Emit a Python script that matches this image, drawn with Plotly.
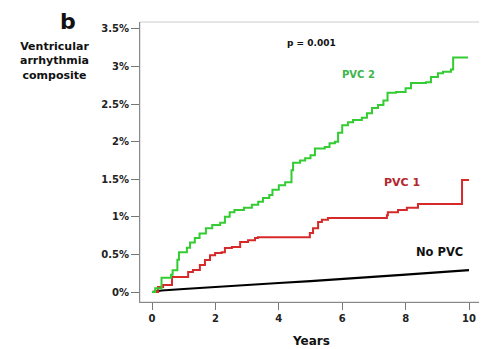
import plotly.graph_objects as go

# PVC 2 (green) cumulative incidence, %
pvc2_t = [0, 0.1, 0.3, 0.6, 0.65, 0.8, 0.85, 1.1, 1.2, 1.35, 1.5, 1.7, 1.9, 2.15, 2.3, 2.45, 2.6,
          2.9, 3.15, 3.35, 3.5, 3.7, 3.8, 4.0, 4.2, 4.4, 4.45, 4.67, 4.83, 5.0, 5.14, 5.45, 5.6,
          5.77, 5.87, 6.0, 6.18, 6.34, 6.62, 6.78, 6.94, 7.13, 7.3, 7.43, 7.7, 8.0, 8.17, 8.64,
          8.8, 9.02, 9.18, 9.43, 9.5, 9.97]
pvc2_y = [0, 0.05, 0.19, 0.23, 0.29, 0.43, 0.53, 0.59, 0.66, 0.72, 0.78, 0.85, 0.89, 0.92, 1.0, 1.06, 1.09,
          1.12, 1.16, 1.2, 1.25, 1.29, 1.36, 1.42, 1.46, 1.62, 1.72, 1.75, 1.78, 1.82, 1.91, 1.93, 1.98,
          2.0, 2.12, 2.22, 2.26, 2.29, 2.32, 2.38, 2.45, 2.49, 2.55, 2.65, 2.66, 2.71, 2.78, 2.79,
          2.86, 2.91, 2.93, 2.96, 3.12, 3.12]

# PVC 1 (red)
pvc1_t = [0, 0.19, 0.35, 0.63, 1.14, 1.29, 1.51, 1.67, 1.83, 1.99, 2.2, 2.3, 2.52, 2.78, 3.03, 3.25,
          3.34, 4.98, 5.08, 5.24, 5.36, 5.55, 7.41, 7.44, 7.76, 8.04, 8.39, 9.78, 10.0]
pvc1_y = [0, 0.066, 0.093, 0.2, 0.266, 0.293, 0.36, 0.425, 0.49, 0.52, 0.53, 0.585, 0.6, 0.665, 0.69, 0.72,
          0.73, 0.785, 0.85, 0.93, 0.96, 0.985, 1.02, 1.06, 1.09, 1.12, 1.17, 1.49, 1.49]

# No PVC (black)
nopvc_t = [0, 0.3, 1, 2, 3, 4, 5, 6, 7, 8, 9, 10]
nopvc_y = [0, 0.02, 0.04, 0.07, 0.095, 0.12, 0.145, 0.17, 0.2, 0.23, 0.26, 0.29]

x_ticks = [0, 2, 4, 6, 8, 10]
y_ticks = [0, 0.5, 1, 1.5, 2, 2.5, 3, 3.5]
y_tick_text = ["0%", "0.5%", "1%", "1.5%", "2%", "2.5%", "3%", "3.5%"]

FONT = "DejaVu Sans"
GREEN = "#33cc33"
RED = "#d62a2a"

fig = go.Figure()
fig.add_trace(go.Scatter(x=nopvc_t, y=nopvc_y, mode="lines", line=dict(color="black", width=2.2)))
fig.add_trace(go.Scatter(x=pvc1_t, y=pvc1_y, mode="lines", line=dict(color=RED, width=2, shape="hv")))
fig.add_trace(go.Scatter(x=pvc2_t, y=pvc2_y, mode="lines", line=dict(color=GREEN, width=2, shape="hv")))

# page body has an 8px margin, so the figure is 8px smaller and everything shifted
fig.update_layout(
    width=479, height=341,
    margin=dict(l=132, r=5, t=14, b=47),
    paper_bgcolor="white", plot_bgcolor="white",
    showlegend=False,
    font=dict(family=FONT, size=10, color="#222", weight="bold"),
)
fig.update_xaxes(range=[-0.379, 10.41], tickvals=x_ticks, ticks="outside", ticklen=7,
                 tickcolor="#777", showline=True, linecolor="#888", linewidth=1,
                 showgrid=False, zeroline=False,
                 tickfont=dict(family=FONT, size=10, color="#222", weight="bold"))
fig.update_yaxes(range=[-0.133, 3.593], tickvals=y_ticks, ticktext=y_tick_text, ticks="outside",
                 ticklen=8, tickcolor="#777", showline=True, linecolor="#888", linewidth=1,
                 showgrid=False, zeroline=False,
                 tickfont=dict(family=FONT, size=10, color="#222", weight="bold"))

fig.add_shape(type="rect", xref="paper", yref="paper", x0=0, x1=1, y0=0, y1=1,
              line=dict(color="#cccccc", width=1), layer="below")

def ann(text, x, y, size, color="#111", xref="x", yref="y", yanchor="middle"):
    fig.add_annotation(text=text, x=x, y=y, xref=xref, yref=yref, showarrow=False,
                       font=dict(family=FONT, size=size, color=color, weight="bold"),
                       xanchor="center", yanchor=yanchor, borderpad=0)

ann("PVC 2", 6.5, 2.89, 10, color="#3cb54a")
ann("PVC 1", 7.89, 1.46, 11, color="#b3262e")
ann("No PVC", 9.08, 0.53, 11.5, color="#111")
ann("p = 0.001", 5.02, 3.31, 9, color="#111")
ann("b", -0.2105, 1.05, 22, xref="paper", yref="paper", yanchor="top")
ann("Ventricular<br>arrhythmia<br>composite", -0.251, 0.859, 11, xref="paper", yref="paper")
ann("Years", 0.5, -0.139, 12, xref="paper", yref="paper")

fig.write_html("out.html")
